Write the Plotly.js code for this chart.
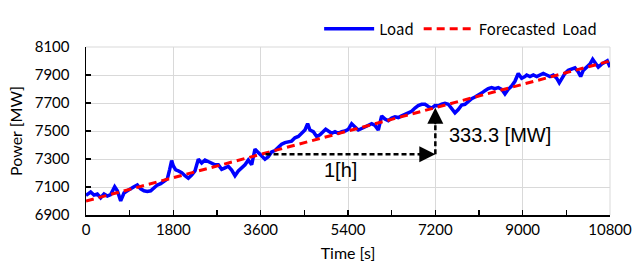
<!DOCTYPE html>
<html>
<head>
<meta charset="utf-8">
<script src="https://cdn.plot.ly/plotly-3.0.1.min.js"></script>
<style>html,body{margin:0;padding:0;background:#fff;}#chart{width:634px;height:270px;}</style>
</head>
<body>
<div id="chart"></div>
<script>
// Measured load (time in s, power in MW)
const loadTime = [0,96,165,233,302,371,440,508,591,646,715,783,852,921,989,1058,1127,1195,1264,1333,1401,1470,1539,1608,1676,1725,1765,1800,1849,1903,1972,2040,2109,2178,2246,2315,2384,2453,2521,2590,2659,2727,2796,2865,2933,3002,3071,3139,3208,3277,3345,3415,3483,3551,3620,3689,3757,3826,3895,3963,4032,4101,4170,4238,4307,4376,4445,4513,4568,4616,4685,4754,4822,4891,4940,4994,5064,5132,5200,5270,5338,5406,5475,5544,5612,5682,5750,5818,5888,5956,6024,6094,6162,6230,6300,6368,6436,6506,6574,6642,6712,6780,6848,6918,6987,7055,7124,7193,7261,7330,7399,7467,7537,7605,7673,7743,7811,7879,7949,8017,8085,8155,8223,8291,8361,8429,8497,8567,8635,8703,8773,8841,8909,8979,9047,9083,9151,9219,9289,9357,9425,9495,9563,9631,9701,9755,9804,9872,9940,10010,10078,10146,10195,10249,10319,10387,10443,10490,10558,10628,10696,10744,10800];
const loadPower = [7040,7064,7042,7050,7023,7050,7035,7046,7102,7073,7001,7057,7073,7091,7102,7114,7087,7073,7068,7073,7091,7114,7124,7141,7158,7226,7289,7250,7222,7215,7203,7181,7163,7185,7215,7298,7271,7293,7282,7271,7259,7259,7226,7237,7248,7221,7181,7215,7237,7259,7293,7259,7370,7345,7327,7298,7316,7350,7360,7383,7405,7417,7424,7428,7451,7461,7484,7507,7552,7507,7495,7461,7473,7495,7513,7500,7484,7495,7484,7495,7500,7512,7552,7529,7507,7518,7529,7540,7552,7540,7507,7608,7585,7574,7592,7601,7596,7608,7619,7630,7641,7664,7682,7691,7691,7675,7664,7682,7680,7691,7697,7691,7664,7630,7653,7686,7691,7714,7731,7743,7754,7771,7788,7803,7810,7803,7810,7798,7765,7798,7821,7855,7911,7877,7889,7900,7889,7900,7889,7900,7911,7900,7889,7900,7877,7844,7877,7911,7933,7945,7951,7922,7889,7933,7956,7978,8012,7990,7956,7978,7990,8001,7956];

// Forecasted load
const fcTime = [0,1800,3600,5400,7200,9000,10800];
const fcPower = [7000,7166.7,7333.3,7500,7666.7,7833.3,8000];

// Ramp annotation (1 h -> 333.3 MW)
const rampStartTime = 3700;
const rampEndTime = 7200;
const rampLow = 7333.3;
const rampHigh = 7666.7;
const rampLabelH = "1[h]";
const rampLabelMW = "333.3 [MW]";

// Axes
const xTicks = [0,1800,3600,5400,7200,9000,10800];
const yTicks = [6900,7100,7300,7500,7700,7900,8100];

const tickFont = {family: "Lato, 'Open Sans', sans-serif", size: 15, color: "#000"};
const titleFont = {family: "Lato, 'Open Sans', sans-serif", size: 16, color: "#000"};
const annFont = {family: "'Liberation Sans', Arial, sans-serif", size: 20, color: "#000"};

const traces = [
  {x: loadTime, y: loadPower, type: "scatter", mode: "lines", name: "Load",
   line: {color: "#0000ff", width: 3.5}},
  {x: fcTime, y: fcPower, type: "scatter", mode: "lines", name: "Forecasted  Load",
   line: {color: "#ff0000", width: 3, dash: "8px,5px"}}
];

const layout = {
  width: 634, height: 270,
  margin: {l: 86, r: 24, t: 37, b: 55},
  paper_bgcolor: "#fff", plot_bgcolor: "#fff",
  showlegend: true,
  legend: {orientation: "h", x: 0.985, xanchor: "right", y: 1.107, yanchor: "middle",
           font: {family: "'Noto Sans CJK JP', sans-serif", size: 15, color: "#000"},
           bgcolor: "rgba(0,0,0,0)", itemwidth: 50},
  xaxis: {range: [0, 10800], tickvals: xTicks, ticktext: xTicks.map(String),
          showgrid: true, gridcolor: "#d9d9d9", gridwidth: 1,
          showline: true, linecolor: "#000", linewidth: 1.5,
          ticks: "inside", ticklen: 5, tickcolor: "#000", tickwidth: 1.5,
          minor: {dtick: 900, tick0: 0, ticks: "inside", ticklen: 5, tickcolor: "#000", tickwidth: 1.5, showgrid: false},
          zeroline: false, tickfont: tickFont,
          title: {text: "Time [s]", font: titleFont, standoff: 11}},
  yaxis: {range: [6900, 8100], tickvals: yTicks, ticktext: yTicks.map(String),
          showgrid: true, gridcolor: "#d9d9d9", gridwidth: 1,
          showline: true, linecolor: "#000", linewidth: 1.5,
          ticks: "inside", ticklen: 5, tickcolor: "#000", tickwidth: 1.5,
          ticklabelstandoff: 12,
          zeroline: false, tickfont: tickFont,
          title: {text: "Power [MW]", font: titleFont, standoff: 8}},
  shapes: [
    {type: "line", xref: "x", yref: "y", x0: rampStartTime, x1: rampEndTime - 150, y0: rampLow, y1: rampLow,
     line: {color: "#000", width: 2.5, dash: "5px,3px"}},
    {type: "line", xref: "x", yref: "y", x0: rampEndTime, x1: rampEndTime, y0: rampLow, y1: rampHigh - 60,
     line: {color: "#000", width: 2.5, dash: "5px,3px"}},
    {type: "line", xref: "paper", yref: "paper", x0: 0, x1: 1, y0: 1, y1: 1, line: {color: "#d9d9d9", width: 1}, layer: "below"},
    {type: "line", xref: "paper", yref: "paper", x0: 1, x1: 1, y0: 0, y1: 1, line: {color: "#d9d9d9", width: 1}, layer: "below"}
  ],
  annotations: [
    {x: rampEndTime, y: rampLow, xref: "x", yref: "y", ax: -18, ay: 0, text: "",
     showarrow: true, arrowhead: 2, arrowsize: 1.6, arrowwidth: 2, arrowcolor: "#000"},
    {x: rampEndTime, y: rampHigh, xref: "x", yref: "y", ax: 0, ay: 18, text: "",
     showarrow: true, arrowhead: 2, arrowsize: 1.6, arrowwidth: 2, arrowcolor: "#000"},
    {x: (rampStartTime + rampEndTime) / 2 - 200, y: rampLow, xref: "x", yref: "y", yshift: -16,
     text: rampLabelH, showarrow: false, font: annFont},
    {x: rampEndTime, y: (rampLow + rampHigh) / 2, xref: "x", yref: "y", xanchor: "left", xshift: 12, yshift: -4,
     text: rampLabelMW, showarrow: false, font: annFont}
  ]
};

Plotly.newPlot("chart", traces, layout, {displayModeBar: false, staticPlot: true});
</script>
</body>
</html>
